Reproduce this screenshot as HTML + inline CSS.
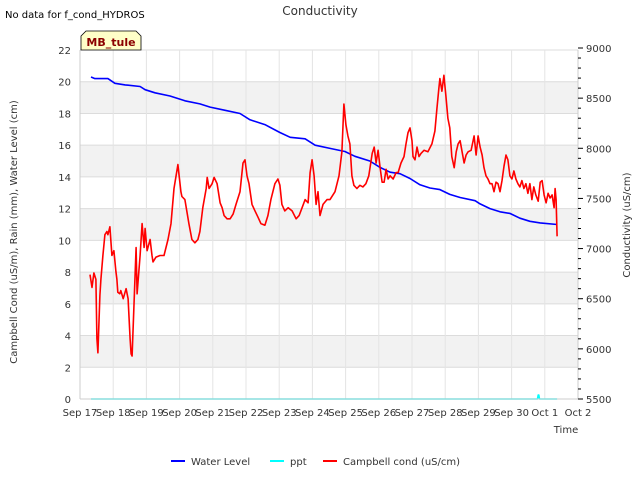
<!DOCTYPE html>
<html><head><meta charset="utf-8"><style>
html,body{margin:0;padding:0;background:#fff;}
svg{display:block;font-family:"DejaVu Sans","Liberation Sans",sans-serif;}
</style></head><body>
<svg id="chart" width="640" height="480" viewBox="0 0 640 480">
<rect x="0" y="0" width="640" height="480" fill="#fff"/>
<text x="5" y="18" font-size="10" fill="#000">No data for f_cond_HYDROS</text>
<text x="320" y="15" font-size="12" fill="#333" text-anchor="middle">Conductivity</text>
<g id="bands"></g>
<g id="grid"></g>
<g id="series"></g>
<g id="axes"></g>
<g>
<path d="M81,50 L81,36 L86,31 L136,31 L141,36 L141,50 Z" fill="#ffffc8" stroke="#000" stroke-width="0.8"/>
<text x="111" y="46" font-size="11" font-weight="bold" fill="#8b0000" text-anchor="middle">MB_tule</text>
</g>
<text x="17" y="232" font-size="10" fill="#333" text-anchor="middle" transform="rotate(-90 17 232)">Campbell Cond (uS/m), Rain (mm), Water Level (cm)</text>
<text x="630" y="225" font-size="10" fill="#333" text-anchor="middle" transform="rotate(-90 630 225)">Conductivity (uS/cm)</text>
<text x="566" y="433" font-size="10" fill="#333" text-anchor="middle">Time</text>
<g>
<g><line x1="171" y1="461" x2="185" y2="461" stroke="#0000ff" stroke-width="2"/><text x="191" y="465" font-size="10" fill="#333">Water Level</text></g>
<g><line x1="270" y1="461" x2="284" y2="461" stroke="#00ffff" stroke-width="2"/><text x="290" y="465" font-size="10" fill="#333">ppt</text></g>
<g><line x1="323" y1="461" x2="337" y2="461" stroke="#ff0000" stroke-width="2"/><text x="343" y="465" font-size="10" fill="#333">Campbell cond (uS/cm)</text></g>
</g>
</svg>
<script>
const xTickLabels=["Sep 17","Sep 18","Sep 19","Sep 20","Sep 21","Sep 22","Sep 23","Sep 24","Sep 25","Sep 26","Sep 27","Sep 28","Sep 29","Sep 30","Oct 1","Oct 2"];
const leftTicks=[0,2,4,6,8,10,12,14,16,18,20,22];
const rightTicks=[5500,6000,6500,7000,7500,8000,8500,9000];
const levelDays=[0.33,0.45,0.84,1.05,1.36,1.81,1.96,2.26,2.71,3.16,3.61,3.92,4.37,4.82,5.12,5.57,6.02,6.33,6.78,7.08,7.53,7.98,8.28,8.73,9.04,9.34,9.64,9.94,10.24,10.54,10.84,11.14,11.45,11.90,12.05,12.35,12.65,12.95,13.25,13.55,13.86,14.37];
const levelValues=[20.3,20.2,20.2,19.9,19.8,19.7,19.5,19.3,19.1,18.8,18.6,18.4,18.2,18.0,17.6,17.3,16.8,16.5,16.4,16.0,15.8,15.6,15.3,15.0,14.6,14.3,14.2,13.9,13.5,13.3,13.2,12.9,12.7,12.5,12.3,12.0,11.8,11.7,11.4,11.2,11.1,11.0];
const pptDays=[0.33,13.78,13.80,13.82,13.84,14.37];
const pptValues=[0,0,0.25,0.25,0,0];
const condDays=[0.30,0.36,0.42,0.48,0.51,0.54,0.60,0.63,0.69,0.75,0.81,0.84,0.90,0.96,1.02,1.08,1.11,1.14,1.20,1.23,1.30,1.39,1.45,1.51,1.54,1.57,1.69,1.72,1.81,1.87,1.93,1.96,2.02,2.11,2.17,2.20,2.29,2.41,2.53,2.65,2.74,2.83,2.95,3.04,3.07,3.16,3.28,3.37,3.46,3.55,3.61,3.70,3.80,3.83,3.89,3.98,4.04,4.13,4.22,4.28,4.34,4.43,4.52,4.61,4.70,4.82,4.91,4.97,5.03,5.09,5.18,5.27,5.36,5.45,5.57,5.66,5.75,5.87,5.96,6.02,6.08,6.17,6.27,6.39,6.51,6.60,6.69,6.78,6.87,6.93,6.99,7.05,7.11,7.17,7.23,7.32,7.44,7.53,7.68,7.80,7.89,7.95,8.01,8.07,8.13,8.19,8.25,8.34,8.43,8.52,8.61,8.70,8.80,8.86,8.92,8.98,9.04,9.10,9.16,9.22,9.28,9.34,9.43,9.52,9.58,9.67,9.76,9.82,9.88,9.94,10.00,10.03,10.09,10.15,10.21,10.27,10.36,10.48,10.60,10.69,10.75,10.81,10.84,10.90,10.96,11.02,11.08,11.14,11.20,11.27,11.33,11.39,11.45,11.51,11.57,11.63,11.69,11.78,11.87,11.93,11.99,12.05,12.11,12.17,12.23,12.29,12.35,12.41,12.47,12.53,12.59,12.65,12.71,12.77,12.83,12.89,12.95,13.01,13.07,13.13,13.19,13.25,13.31,13.37,13.43,13.49,13.55,13.61,13.67,13.73,13.80,13.86,13.92,13.98,14.04,14.10,14.16,14.22,14.28,14.31,14.34,14.37];
const condValues=[6740,6613,6756,6693,6104,5961,6534,6693,6931,7138,7170,7138,7217,6931,6979,6772,6693,6565,6549,6581,6500,6600,6500,6100,5950,5929,7011,6549,6931,7249,7011,7201,6979,7090,6931,6867,6915,6931,6931,7090,7249,7599,7837,7567,7519,7488,7249,7090,7058,7090,7170,7408,7599,7710,7599,7647,7710,7647,7456,7408,7329,7297,7297,7344,7440,7567,7853,7885,7726,7647,7440,7376,7313,7249,7233,7329,7488,7647,7694,7631,7440,7376,7408,7376,7297,7329,7408,7488,7456,7758,7885,7726,7440,7567,7329,7440,7488,7488,7567,7726,7965,8442,8235,8124,8044,7726,7631,7599,7631,7615,7647,7726,7949,8012,7853,7980,7806,7662,7662,7790,7694,7726,7694,7758,7758,7853,7917,8044,8155,8203,8076,7917,7885,8012,7917,7949,7980,7965,8044,8171,8394,8601,8696,8569,8728,8521,8298,8203,7917,7806,7965,8044,8076,7965,7853,7933,7965,7980,8124,7933,8124,8012,7933,7806,7726,7694,7647,7647,7567,7662,7647,7567,7678,7821,7933,7885,7726,7694,7774,7694,7647,7615,7678,7599,7647,7551,7647,7488,7615,7535,7472,7662,7678,7535,7456,7551,7504,7535,7408,7599,7488,7122];

const NS="http://www.w3.org/2000/svg";
const X0=80,X1=578,YT=50,YB=399;
const xs=d=>X0+d*(X1-X0)/15;
const yL=v=>YB-v*(YB-YT)/22;
const yR=v=>YB-(v-5500)*(YB-48)/3500;
function mk(tag,attrs,parent){const e=document.createElementNS(NS,tag);for(const k in attrs)e.setAttribute(k,attrs[k]);parent.appendChild(e);return e;}
const bands=document.getElementById('bands'),grid=document.getElementById('grid'),series=document.getElementById('series'),axes=document.getElementById('axes');
for(let v=2;v<22;v+=4){
 const r=mk('rect',{x:X0,y:yL(v+2),width:X1-X0,height:yL(v)-yL(v+2),fill:'#f2f2f2'},bands);
 
 
}
leftTicks.forEach(v=>{
 const l=mk('line',{x1:X0,x2:X1,y1:yL(v),y2:yL(v),stroke:'#dcdcdc','stroke-width':1},grid);
 
 
 const t=mk('text',{x:71,y:yL(v)+4,'font-size':10,fill:'#333','text-anchor':'end'},axes);
 t.textContent=v;
 
 
});
xTickLabels.forEach((s,i)=>{
 const l=mk('line',{x1:xs(i),x2:xs(i),y1:YT,y2:YB,stroke:'#e4e4e4','stroke-width':1},grid);
 
 
 const t=mk('text',{x:xs(i),y:416,'font-size':10,fill:'#333','text-anchor':'middle'},axes);
 t.textContent=s;
 
 
});
mk('line',{x1:X0,x2:X0,y1:YT,y2:YB,stroke:'#ccc'},axes);
mk('line',{x1:X1,x2:X1,y1:YT,y2:YB,stroke:'#ccc'},axes);
mk('line',{x1:X0,x2:X1,y1:YB,y2:YB,stroke:'#ccc'},axes);
for(let v=5500;v<=9000;v+=100){
 const maj=v%500===0;
 const l=mk('line',{x1:X1,x2:X1+(maj?5:3),y1:yR(v),y2:yR(v),stroke:'#000','stroke-width':1},axes);
 
 
}
rightTicks.forEach(v=>{
 const t=mk('text',{x:586,y:yR(v)+4,'font-size':10,fill:'#333'},axes);
 t.textContent=v;
 
 
});
function line(days,vals,yf,color,name){
 const d=days.map((x,i)=>(i?'L':'M')+xs(x).toFixed(1)+','+yf(vals[i]).toFixed(1)).join(' ');
 const p=mk('path',{d:d,fill:'none',stroke:color,'stroke-width':1.6,'stroke-linejoin':'round'},series);
 
 
}
line(levelDays,levelValues,yL,'#0000ff','water-level-line');
line(pptDays,pptValues,yL,'#00ffff','ppt-line');
line(condDays,condValues,yR,'#ff0000','campbell-cond-line');
</script>
</body></html>
